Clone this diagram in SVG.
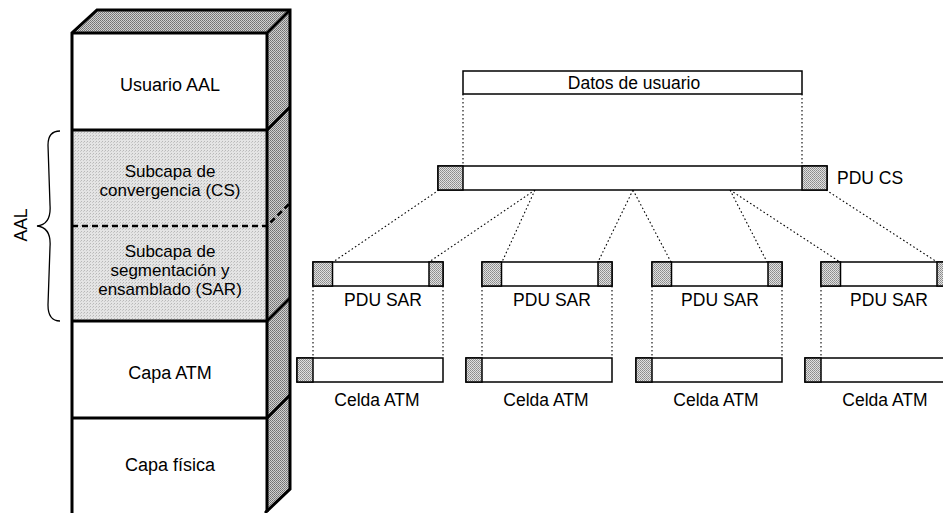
<svg xmlns="http://www.w3.org/2000/svg" width="943" height="513" viewBox="0 0 943 513">
<defs>
<pattern id="dither" width="2" height="2" patternUnits="userSpaceOnUse">
<rect width="2" height="2" fill="#d0d0d0"/>
<rect width="1" height="1" fill="#707070"/>
<rect x="1" y="1" width="1" height="1" fill="#808080"/>
</pattern>
<pattern id="hdr" width="2" height="2" patternUnits="userSpaceOnUse">
<rect width="2" height="2" fill="#e0e0e0"/>
<rect width="1" height="1" fill="#8a8a8a"/>
<rect x="1" y="1" width="1" height="1" fill="#9a9a9a"/>
</pattern>
<pattern id="light" width="3" height="3" patternUnits="userSpaceOnUse">
<rect width="3" height="3" fill="#e4e4e4"/>
<rect width="1" height="1" fill="#b8b8b8"/>
<rect x="2" y="1" width="1" height="1" fill="#c8c8c8"/>
</pattern>
</defs>
<style>
text{font-family:"Liberation Sans",Arial,sans-serif;fill:#000}
.t18{font-size:17px;text-anchor:middle}
.big{font-size:18px}
.t17{font-size:17.5px}
.mid{text-anchor:middle}
.thick{stroke:#000;stroke-width:3;fill:none;stroke-linejoin:miter}
.box{fill:#fff;stroke:#000;stroke-width:1.5}
.hd{fill:url(#hdr);stroke:#000;stroke-width:1.5}
.dot{stroke:#000;stroke-width:1.1;stroke-dasharray:1.6 2.4;fill:none}
</style>
<rect width="943" height="513" fill="#fff"/>

<g id="stack">
<polygon points="72,33 97,10 290,10 267,33" fill="url(#dither)"/>
<polygon points="267,33 290,10 290,489 266,512" fill="url(#dither)"/>
<rect x="72" y="33" width="195" height="97" fill="#fff"/>
<rect x="72" y="130" width="195" height="191" fill="url(#light)"/>
<rect x="72" y="321" width="195" height="97" fill="#fff"/>
<rect x="72" y="418" width="195" height="100" fill="#fff"/>
<path class="thick" d="M72,518 L72,33 L97,10 L290,10 L290,489 L266,512 L266,518"/>
<path class="thick" d="M72,33 L267,33 L290,10 M267,33 L267,512"/>
<path class="thick" d="M72,130 L267,130 L290,107 M72,321 L267,321 L290,298 M72,418 L267,418 L290,395"/>
<path d="M72,226 L267,226 L290,203" stroke="#000" stroke-width="2.5" stroke-dasharray="6 4" fill="none"/>
</g>

<g id="layer-usuario"><text class="t18 big" x="170" y="91">Usuario AAL</text></g>
<g id="layer-cs"><text class="t18" x="170" y="177">Subcapa de</text><text class="t18" x="170" y="196">convergencia (CS)</text></g>
<g id="layer-sar"><text class="t18" x="170" y="257">Subcapa de</text><text class="t18" x="170" y="276">segmentación y</text><text class="t18" x="170" y="295">ensamblado (SAR)</text></g>
<g id="layer-atm"><text class="t18 big" x="170" y="379">Capa ATM</text></g>
<g id="layer-fisica"><text class="t18 big" x="170" y="471">Capa física</text></g>

<g id="aal-brace">
<path d="M60,131 C52,131 48,135 48,145 L50,205 C51,218 46,225 37,226 C46,227 51,234 50,247 L48,305 C48,316 52,321 60,321" fill="none" stroke="#000" stroke-width="1.3"/>
<text x="26.5" y="225" transform="rotate(-90 26.5 225)" style="font-size:17.5px;text-anchor:middle">AAL</text>
</g>

<g id="connectors">
<path class="dot" d="M463,94 L463,166 M802,94 L802,166"/>
<path class="dot" d="M439,190 L333,262 M535,190 L429,262 M535,190 L502,262 M633,190 L598,262 M633,190 L671,262 M730,190 L767,262 M730,190 L840,262 M826,190 L937,262"/>
<path class="dot" d="M313,286 L313,358 M443,286 L443,358 M482,286 L482,358 M612,286 L612,358 M652,286 L652,358 M782,286 L782,358 M821,286 L821,358 M951,286 L951,358"/>
</g>

<g id="datos-usuario">
<rect class="box" x="463" y="71" width="339" height="23"/>
<text class="t17 mid" x="634" y="89">Datos de usuario</text>
</g>

<g id="pdu-cs">
<rect class="box" x="438" y="166" width="389" height="24"/>
<rect class="hd" x="438" y="166" width="25" height="24"/>
<rect class="hd" x="802" y="166" width="25" height="24"/>
<text class="t17" x="837" y="184">PDU CS</text>
</g>

<g id="pdu-sar-1">
<rect class="box" x="313" y="262" width="130" height="24"/>
<rect class="hd" x="313" y="262" width="19.5" height="24"/>
<rect class="hd" x="429" y="262" width="14" height="24"/>
<text class="t17 mid" x="383" y="306">PDU SAR</text>
</g>
<g id="pdu-sar-2">
<rect class="box" x="482" y="262" width="130" height="24"/>
<rect class="hd" x="482" y="262" width="19.5" height="24"/>
<rect class="hd" x="598" y="262" width="14" height="24"/>
<text class="t17 mid" x="552" y="306">PDU SAR</text>
</g>
<g id="pdu-sar-3">
<rect class="box" x="652" y="262" width="130" height="24"/>
<rect class="hd" x="652" y="262" width="19.5" height="24"/>
<rect class="hd" x="768" y="262" width="14" height="24"/>
<text class="t17 mid" x="720" y="306">PDU SAR</text>
</g>
<g id="pdu-sar-4">
<rect class="box" x="821" y="262" width="130" height="24"/>
<rect class="hd" x="821" y="262" width="19.5" height="24"/>
<rect class="hd" x="937" y="262" width="14" height="24"/>
<text class="t17 mid" x="889" y="306">PDU SAR</text>
</g>

<g id="celda-1">
<rect class="box" x="297" y="358" width="146" height="24"/>
<rect class="hd" x="297" y="358" width="16" height="24"/>
<text class="t17 mid" x="377" y="406">Celda ATM</text>
</g>
<g id="celda-2">
<rect class="box" x="466" y="358" width="146" height="24"/>
<rect class="hd" x="466" y="358" width="16" height="24"/>
<text class="t17 mid" x="546" y="406">Celda ATM</text>
</g>
<g id="celda-3">
<rect class="box" x="636" y="358" width="146" height="24"/>
<rect class="hd" x="636" y="358" width="16" height="24"/>
<text class="t17 mid" x="716" y="406">Celda ATM</text>
</g>
<g id="celda-4">
<rect class="box" x="805" y="358" width="146" height="24"/>
<rect class="hd" x="805" y="358" width="16" height="24"/>
<text class="t17 mid" x="885" y="406">Celda ATM</text>
</g>
</svg>
